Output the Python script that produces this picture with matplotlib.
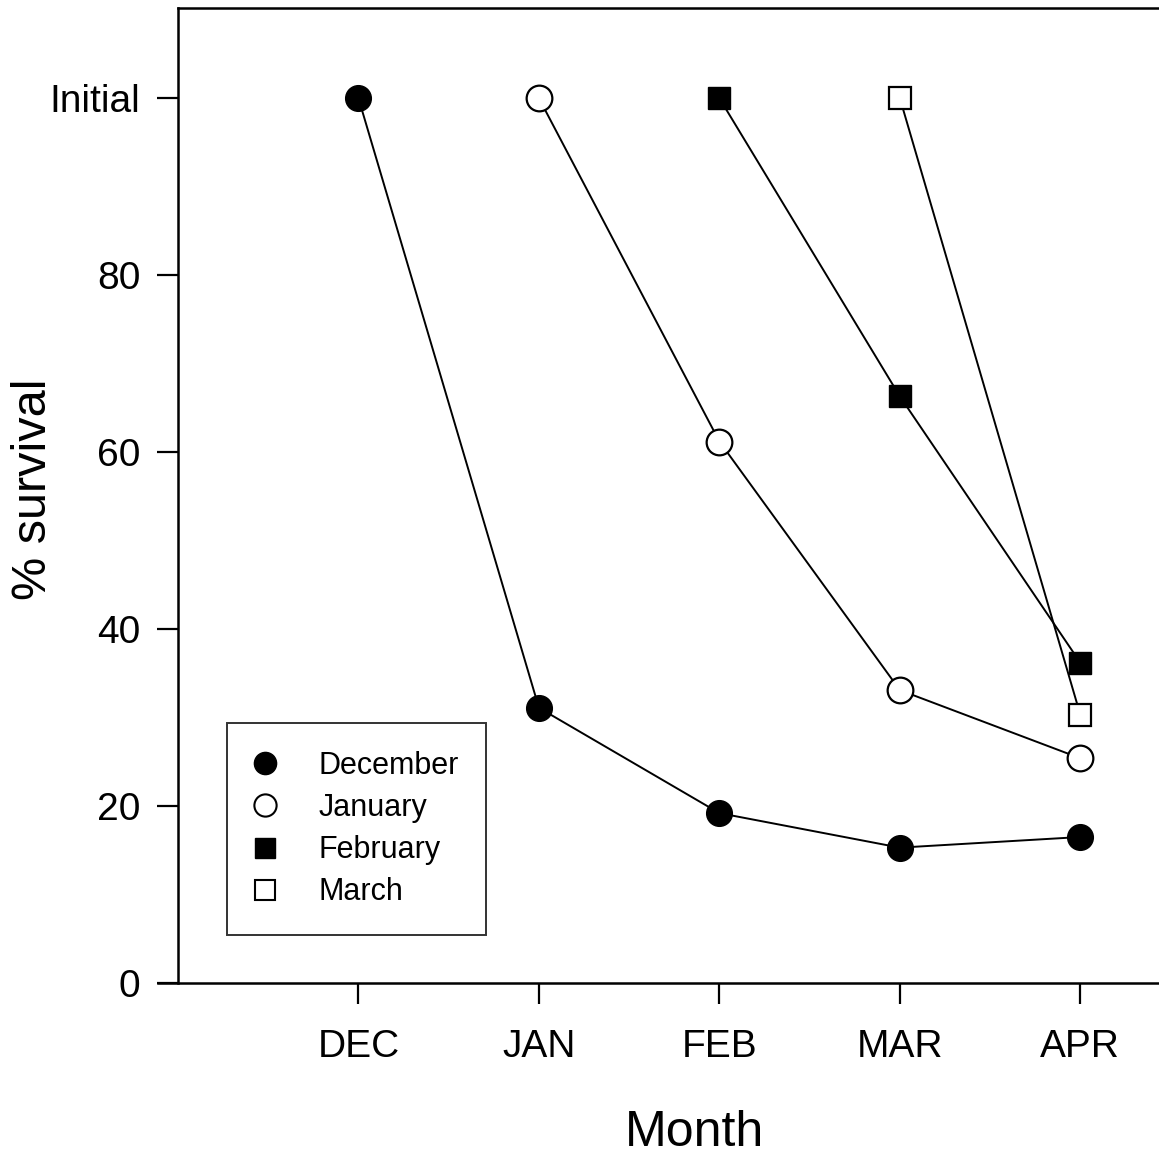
import matplotlib.pyplot as plt

plt.rcParams['font.family'] = ['Liberation Sans', 'DejaVu Sans']

months = ['DEC', 'JAN', 'FEB', 'MAR', 'APR']
dec = [100, 31.1, 19.2, 15.3, 16.5]
jan = [100, 61.2, 33.1, 25.4]
feb = [100, 66.3, 36.2]
mar = [100, 30.3]
yticks = [0, 20, 40, 60, 80, 100]
ylabels = ['0', '20', '40', '60', '80', 'Initial']

fig = plt.figure(figsize=(11.59, 11.57), dpi=100)
ax = fig.add_axes([178/1159, 174/1157, 1 - 178/1159 + 0.01, (983 - 8)/1157])

x = list(range(len(months)))
lw = 1.4
ax.plot(x, dec, '-o', color='black', mfc='black', mec='black', ms=18.5, lw=lw, label='December', zorder=3)
ax.plot(x[1:], jan, '-o', color='black', mfc='white', mec='black', mew=1.6, ms=18.5, lw=lw, label='January', zorder=3)
ax.plot(x[2:], feb, '-s', color='black', mfc='black', mec='black', ms=16, lw=lw, label='February', zorder=3)
ax.plot(x[3:], mar, '-s', color='black', mfc='white', mec='black', mew=1.6, ms=16, lw=lw, label='March', zorder=3)

ax.set_xlim(-1, 4.5)
ax.set_ylim(0, 110.2)
ax.set_xticks(x)
ax.set_xticklabels(months, fontsize=28)
ax.set_yticks(yticks)
ax.set_yticklabels(ylabels, fontsize=28)
ax.tick_params(direction='out', length=15, width=1.6)
ax.tick_params(axis='x', pad=18)
ax.tick_params(axis='y', pad=12)
for s in ['left', 'bottom', 'top']:
    ax.spines[s].set_linewidth(1.8)
ax.spines['right'].set_visible(False)
ax.spines['bottom'].set_bounds(-1.11, 4.5)

ax.set_xlabel('Month', fontsize=36, va='center')
ax.xaxis.set_label_coords(0.52, -0.154)
ax.set_ylabel('% survival', fontsize=35, va='center')
ax.yaxis.set_label_coords(-0.146, 0.506)

# legend without lines, just markers
handles = [
    plt.Line2D([], [], ls='', marker='o', color='black', mfc='black', ms=16),
    plt.Line2D([], [], ls='', marker='o', color='black', mfc='white', mew=1.5, ms=16),
    plt.Line2D([], [], ls='', marker='s', color='black', mfc='black', ms=14),
    plt.Line2D([], [], ls='', marker='s', color='black', mfc='white', mew=1.5, ms=14),
]
leg = ax.legend(handles, ['December', 'January', 'February', 'March'],
                loc='lower left', bbox_to_anchor=((226 - 178)/981, (983 - 935)/975),
                fontsize=22, frameon=True, fancybox=False, edgecolor='black',
                handletextpad=1.4, labelspacing=0.4, borderpad=0.9, handlelength=0.7,
                borderaxespad=0)
leg.get_frame().set_linewidth(1.4)

fig.savefig('out.png', dpi=100)
